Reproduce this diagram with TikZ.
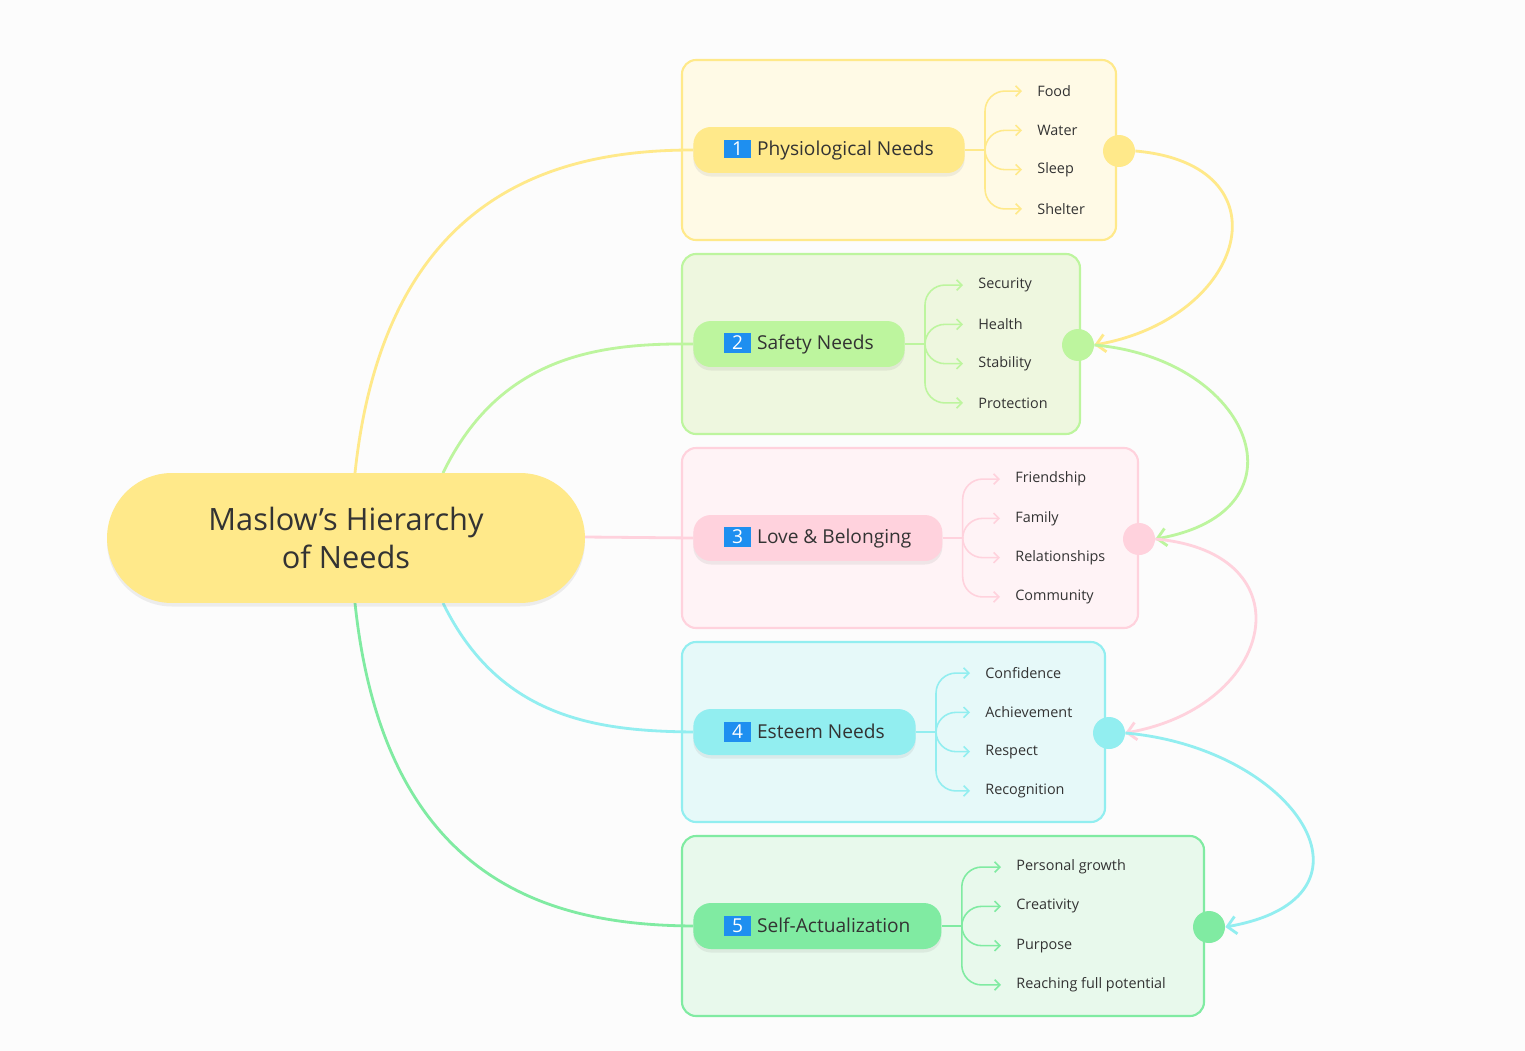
\documentclass[tikz,border=0pt]{standalone}
\usepackage{fontspec}
\setmainfont{Open Sans}
\usetikzlibrary{shadows,arrows.meta}
\definecolor{bgc}{HTML}{FCFCFC}
\definecolor{badge}{HTML}{1E8FF0}
\definecolor{txt}{HTML}{333333}
\definecolor{colA}{HTML}{FFE98A}\definecolor{fillA}{HTML}{FFFAE6}
\definecolor{colB}{HTML}{BDF59E}\definecolor{fillB}{HTML}{EEF7DF}
\definecolor{colC}{HTML}{FFD2DD}\definecolor{fillC}{HTML}{FFF3F6}
\definecolor{colD}{HTML}{92EEF0}\definecolor{fillD}{HTML}{E6F9F9}
\definecolor{colE}{HTML}{80EBA2}\definecolor{fillE}{HTML}{E8F9EC}
\newcommand{\numbadge}[1]{{\setlength{\fboxsep}{1.5pt}\colorbox{badge}{\makebox[1.1em]{\color{white}#1}}}}
\tikzset{
  group/.style={rounded corners=8pt, line width=1.2pt},
  pill/.style={rounded corners=10pt, minimum height=0.92cm, inner xsep=0.62cm, anchor=west,
    font=\fontsize{10.9}{12}\selectfont, text=txt, drop shadow={opacity=0.12, shadow xshift=0pt, shadow yshift=-2pt}},
  leaf/.style={anchor=west, font=\fontsize{8.2}{10}\selectfont, text=txt, inner sep=0pt},
  link/.style={line width=1.6pt},
  dot/.style={circle, minimum size=0.64cm, inner sep=0pt},
}
\begin{document}
\begin{tikzpicture}[x=0.02cm,y=-0.02cm]
\useasboundingbox[fill=bgc] (0,0) rectangle (1525,1051);
% groups
\foreach \i/\col/\rgt/\lbl/\lx/\dx/\la/\lb/\lc/\ld in {
  1/A/1116/Physiological Needs/1037/1119/Food/Water/Sleep/Shelter,
  2/B/1080/Safety Needs/978/1078/Security/Health/Stability/Protection,
  3/C/1138/Love \& Belonging/1015/1139/Friendship/Family/Relationships/Community,
  4/D/1105/Esteem Needs/985/1109/Confidence/Achievement/Respect/Recognition,
  5/E/1204/Self-Actualization/1016/1209/Personal growth/Creativity/Purpose/Reaching full potential}{
  \pgfmathsetmacro{\top}{60+194*(\i-1)}
  \pgfmathsetmacro{\cy}{\top+90}
  \draw[group, draw=col\col, fill=fill\col] (682,\top) rectangle (\rgt,\top+180);
  \node[pill, fill=col\col] (need\i) at (693,\cy) {\numbadge{\i}\,\,\lbl};
  \coordinate (fork\i) at ([xshift=0.4cm]need\i.east);
  \draw[col\col, line width=1pt] (need\i.east) -- (fork\i);
  \foreach \t [count=\k] in {\la,\lb,\lc,\ld}{
    \pgfmathsetmacro{\ly}{\cy+39.3*(\k-2.5)}
    \node[leaf] (leaf\i\k) at (\lx,\ly) {\t};
    \draw[col\col, line width=0.9pt, rounded corners=0.4cm, -{Straight Barb[length=3pt]}]
      (fork\i) -- (fork\i |- leaf\i\k) -- ([xshift=-0.3cm]leaf\i\k.west);
  }
  \node[dot, fill=col\col] (dot\i) at (\dx,\cy+1) {};
}
% links between the dots
\foreach \i/\j/\col in {1/2/A,2/3/B,3/4/C,4/5/D}{
  \draw[link, col\col, -{Straight Barb[length=5pt]}] (dot\i.east) to[out=-5,in=10,looseness=2] (dot\j.east);
}
% centre topic
\coordinate (upA) at (355,473);
\coordinate (upB) at (443,473);
\coordinate (dnD) at (443,603);
\coordinate (dnE) at (355,603);
\draw[link, colA] (upA) .. controls (385,190) and (560,150) .. (need1.west);
\draw[link, colB] (upB) .. controls (500,355) and (600,343) .. (need2.west);
\draw[link, colC] (585,537) -- (need3.west);
\draw[link, colD] (dnD) .. controls (500,720) and (600,731) .. (need4.west);
\draw[link, colE] (dnE) .. controls (385,890) and (560,925) .. (need5.west);
\node[fill=colA, rounded corners=1.3cm, minimum width=9.56cm, minimum height=2.6cm,
  align=center, text=txt, font=\fontsize{17.5}{22}\selectfont,
  drop shadow={opacity=0.12, shadow xshift=0pt, shadow yshift=-2pt}] (main) at (346,538)
  {Maslow's Hierarchy\\of Needs};
\end{tikzpicture}
\end{document}
